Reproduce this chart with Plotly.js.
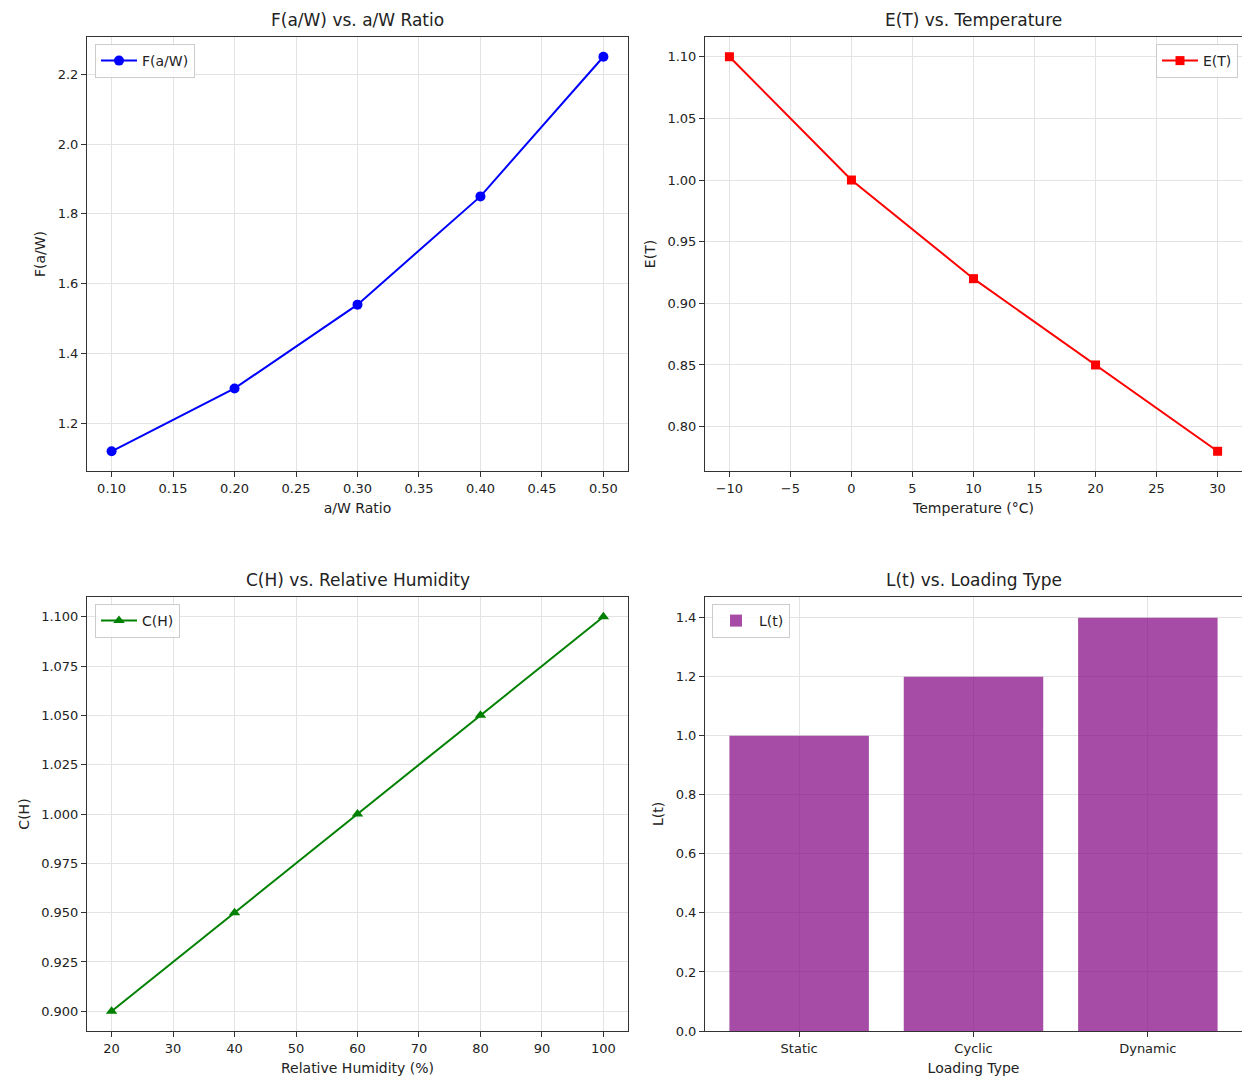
<!DOCTYPE html>
<html>
<head>
<meta charset="utf-8">
<script src="https://cdn.plot.ly/plotly-3.0.1.min.js"></script>
<style>html,body{margin:0;padding:0;background:#fff;}</style>
</head>
<body>
<div id="chart" style="width:1242px;height:1077px;"></div>
<script>
// Panel 1: F(a/W) vs a/W ratio
const awRatio = [0.10, 0.20, 0.30, 0.40, 0.50];
const fAW = [1.12, 1.30, 1.54, 1.85, 2.25];
// Panel 2: E(T) vs temperature
const temperature = [-10, 0, 10, 20, 30];
const eT = [1.10, 1.00, 0.92, 0.85, 0.78];
// Panel 3: C(H) vs relative humidity
const humidity = [20, 40, 60, 80, 100];
const cH = [0.90, 0.95, 1.00, 1.05, 1.10];
// Panel 4: L(t) vs loading type
const loadingTypes = ["Static", "Cyclic", "Dynamic"];
const lT = [1.0, 1.2, 1.4];

const FONT = "DejaVu Sans, sans-serif";
const TXT = "#222222";
const GRID = "#e3e3e3";

const traces = [
  {x: awRatio, y: fAW, type: "scatter", mode: "lines+markers", name: "F(a/W)",
   line: {color: "#0000ff", width: 2}, marker: {symbol: "circle", size: 10, color: "#0000ff"},
   xaxis: "x", yaxis: "y", legend: "legend"},
  {x: temperature, y: eT, type: "scatter", mode: "lines+markers", name: "E(T)",
   line: {color: "#ff0000", width: 2}, marker: {symbol: "square", size: 9, color: "#ff0000"},
   xaxis: "x2", yaxis: "y2", legend: "legend2"},
  {x: humidity, y: cH, type: "scatter", mode: "lines+markers", name: "C(H)",
   line: {color: "#008000", width: 2}, marker: {symbol: "triangle-up", size: 10, color: "#008000"},
   xaxis: "x3", yaxis: "y3", legend: "legend3"},
  {x: loadingTypes, y: lT, type: "bar", name: "L(t)",
   marker: {color: "rgba(128,0,128,0.7)"},
   xaxis: "x4", yaxis: "y4", legend: "legend4"}
];

function ax(domain, anchor, extra) {
  return Object.assign({
    domain: domain, anchor: anchor,
    showline: true, mirror: true, linecolor: "#333333", linewidth: 1,
    ticks: "outside", ticklen: 5, tickcolor: "#333333", tickwidth: 1,
    showgrid: true, gridcolor: GRID, gridwidth: 1, zeroline: false,
    tickfont: {family: FONT, size: 13, color: TXT}
  }, extra);
}
function ttl(t, standoff) {
  return {text: t, font: {family: FONT, size: 14, color: TXT}, standoff: standoff};
}

const xL = [87/1242, 628/1242];
const xR = [705/1242, 1.0];
const yT = [1 - 471/1077, 1 - 37/1077];
const yB = [1 - 1031/1077, 1 - 597/1077];

function leg(x, y, xanchor) {
  return {x: x, y: y, xanchor: xanchor, yanchor: "top", xref: "paper", yref: "paper",
    bgcolor: "rgba(255,255,255,0.85)", bordercolor: "#cccccc", borderwidth: 1,
    font: {family: FONT, size: 14, color: TXT}, itemwidth: 36, tracegroupgap: 0};
}

const layout = {
  width: 1242, height: 1077,
  margin: {l: 0, r: 0, t: 0, b: 0},
  paper_bgcolor: "#ffffff", plot_bgcolor: "#ffffff",
  showlegend: true, bargap: 0.2,
  font: {family: FONT, color: TXT},
  xaxis: ax(xL, "y", {range: [0.08, 0.52], dtick: 0.05, tick0: 0, tickformat: ".2f", title: ttl("a/W Ratio", 8)}),
  yaxis: ax(yT, "x", {range: [1.0635, 2.3065], dtick: 0.2, tick0: 0, tickformat: ".1f", title: ttl("F(a/W)", 8)}),
  xaxis2: ax(xR, "y2", {range: [-12, 32], dtick: 5, tick0: 0, title: ttl("Temperature (°C)", 8)}),
  yaxis2: ax(yT, "x2", {range: [0.764, 1.116], dtick: 0.05, tick0: 0, tickformat: ".2f", title: ttl("E(T)", 8)}),
  xaxis3: ax(xL, "y3", {range: [16, 104], dtick: 10, tick0: 0, title: ttl("Relative Humidity (%)", 8)}),
  yaxis3: ax(yB, "x3", {range: [0.89, 1.11], dtick: 0.025, tick0: 0, tickformat: ".3f", title: ttl("C(H)", 8)}),
  xaxis4: ax(xR, "y4", {type: "category", range: [-0.54, 2.54], showgrid: true, title: ttl("Loading Type", 8)}),
  yaxis4: ax(yB, "x4", {range: [0, 1.47], dtick: 0.2, tick0: 0, tickformat: ".1f", title: ttl("L(t)", 8)}),
  legend: leg(95/1242, 1 - 44/1077, "left"),
  legend2: leg(1238/1242, 1 - 44/1077, "right"),
  legend3: leg(95/1242, 1 - 604/1077, "left"),
  legend4: leg(712/1242, 1 - 604/1077, "left"),
  annotations: [
    {text: "F(a/W) vs. a/W Ratio", x: (87+628)/2/1242, y: 1 - 20/1077},
    {text: "E(T) vs. Temperature", x: (705+1242)/2/1242, y: 1 - 20/1077},
    {text: "C(H) vs. Relative Humidity", x: (87+628)/2/1242, y: 1 - 580/1077},
    {text: "L(t) vs. Loading Type", x: (705+1242)/2/1242, y: 1 - 580/1077}
  ].map(a => Object.assign(a, {xref: "paper", yref: "paper", xanchor: "center", yanchor: "middle",
    showarrow: false, font: {family: FONT, size: 17, color: TXT}}))
};

Plotly.newPlot("chart", traces, layout, {staticPlot: true, displayModeBar: false});
</script>
</body>
</html>
